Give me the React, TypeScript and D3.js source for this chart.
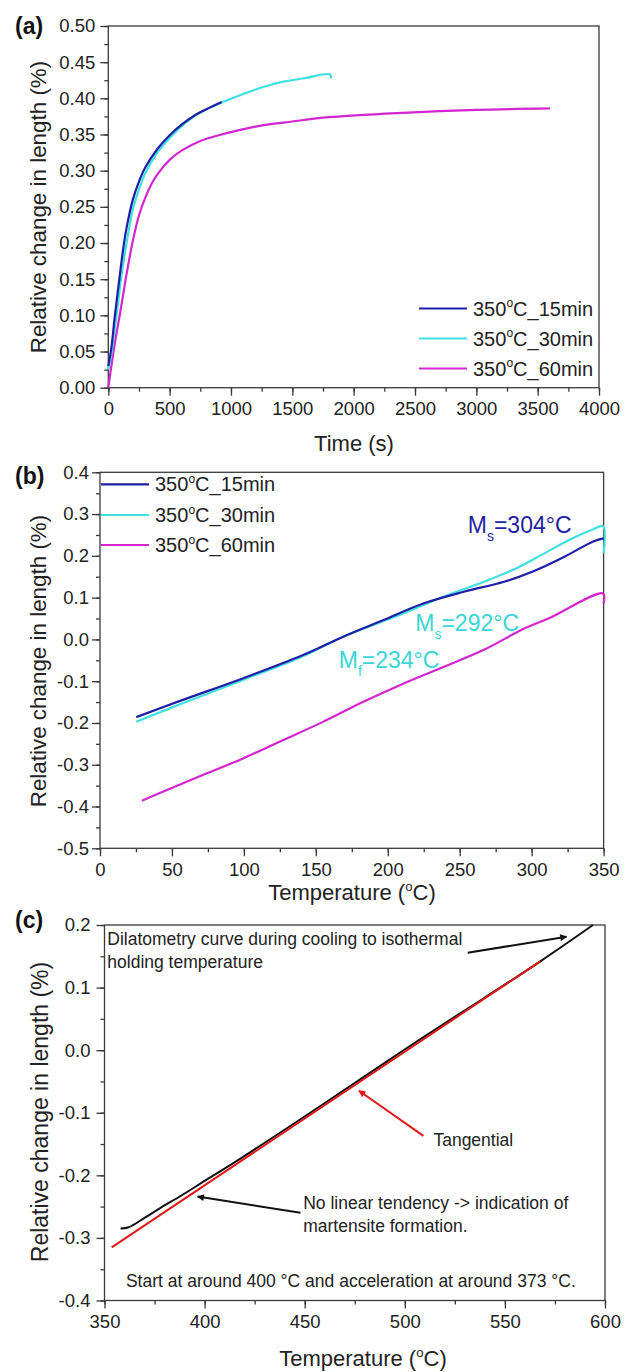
import { useEffect, useRef } from "react";
import * as d3 from "d3";

type Pt = [number, number];

const FONT = "'Liberation Sans', Arial, Helvetica, sans-serif";
const AXIS = "#3a3a3a";
const INK = "#222";
const NAVY = "#1f1fa6";
const CYAN = "#3fe0e0";
const MAGENTA = "#d326d0";

const seriesNames = ["15min", "30min", "60min"];
const seriesColors = [NAVY, CYAN, MAGENTA];

// (a) isothermal holding, time (s) vs relative change (%)
const timeTicks = [0, 500, 1000, 1500, 2000, 2500, 3000, 3500, 4000];
const lenTicksA = [0, 0.05, 0.1, 0.15, 0.2, 0.25, 0.3, 0.35, 0.4, 0.45, 0.5];
const hold15: Pt[] = [
  [0, 0.03], [25, 0.055], [50, 0.094], [75, 0.13], [100, 0.164], [125, 0.196], [150, 0.222],
  [200, 0.26], [250, 0.285], [300, 0.304], [400, 0.33], [500, 0.349], [600, 0.364],
  [700, 0.376], [800, 0.385], [924, 0.395],
];
const hold30: Pt[] = [
  [0, 0.025], [25, 0.047], [50, 0.079], [75, 0.11], [100, 0.146], [125, 0.175], [150, 0.201],
  [200, 0.247], [250, 0.274], [300, 0.296], [400, 0.325], [500, 0.345], [600, 0.362],
  [700, 0.375], [800, 0.385], [950, 0.396], [1100, 0.406], [1250, 0.415], [1400, 0.422],
  [1600, 0.428], [1807, 0.433], [1815, 0.428],
];
const hold60: Pt[] = [
  [0, 0], [50, 0.058], [100, 0.107], [150, 0.158], [200, 0.203], [250, 0.238], [300, 0.262],
  [350, 0.281], [400, 0.295], [500, 0.315], [600, 0.328], [750, 0.341], [900, 0.349],
  [1200, 0.361], [1500, 0.368], [1800, 0.374], [2400, 0.38], [3000, 0.384], [3600, 0.386],
];

// (b) final cooling, temperature (°C) vs relative change (%)
const tempTicksB = [0, 50, 100, 150, 200, 250, 300, 350];
const lenTicksB = [-0.5, -0.4, -0.3, -0.2, -0.1, 0, 0.1, 0.2, 0.3, 0.4];
const cool15: Pt[] = [
  [25.2, -0.186], [56.6, -0.146], [98.6, -0.094], [140.7, -0.038], [168.7, 0.006],
  [196.7, 0.046], [224.7, 0.086], [252.8, 0.114], [280.8, 0.138], [300.4, 0.162],
  [322.8, 0.198], [342.4, 0.234], [350, 0.242],
];
const cool30: Pt[] = [
  [25.2, -0.197], [56.6, -0.154], [98.6, -0.098], [140.7, -0.041], [168.7, 0.006],
  [210.7, 0.062], [238.7, 0.102], [266.8, 0.138], [289.2, 0.17], [308.8, 0.206],
  [328.4, 0.242], [342.4, 0.263], [349.6, 0.271], [350, 0.206],
];
const cool60: Pt[] = [
  [29.1, -0.386], [48.2, -0.358], [70.6, -0.326], [98.6, -0.286], [126.6, -0.242],
  [154.6, -0.198], [182.7, -0.15], [210.7, -0.106], [238.7, -0.066], [266.8, -0.025],
  [294.8, 0.026], [311.6, 0.05], [349.6, 0.11], [350, 0.086],
];

// (c) cooling to holding temperature
const tempTicksC = [350, 400, 450, 500, 550, 600];
const lenTicksC = [-0.4, -0.3, -0.2, -0.1, 0, 0.1, 0.2];
const dilatometry: Pt[] = [
  [358, -0.285], [362, -0.283], [370, -0.268], [378, -0.252], [388, -0.233], [400, -0.209],
  [418.5, -0.172], [449, -0.108], [479, -0.044], [499, -0.001], [519, 0.041],
  [539.5, 0.083], [567.7, 0.142], [594, 0.2],
];
const tangential: Pt[] = [[353.6, -0.315], [567.7, 0.142]];

const step = (a: number, b: number, s: number) => {
  const out: number[] = [];
  for (let v = a; v <= b + 1e-9; v += s) out.push(+v.toFixed(4));
  return out;
};

function drawAxes(g: any, x: any, y: any, o: any) {
  const [x0, x1] = x.range();
  const [y0, y1] = y.range();
  g.append("g").attr("transform", `translate(0,${y0})`)
    .call(d3.axisBottom(x).tickValues(o.xMinor).tickSize(4).tickFormat(() => ""));
  g.append("g").attr("transform", `translate(${x0},0)`)
    .call(d3.axisLeft(y).tickValues(o.yMinor).tickSize(4).tickFormat(() => ""));
  g.append("g").attr("transform", `translate(0,${y0})`)
    .call(d3.axisBottom(x).tickValues(o.xTicks).tickSize(8).tickPadding(o.xPad).tickFormat(o.xFmt));
  g.append("g").attr("transform", `translate(${x0},0)`)
    .call(d3.axisLeft(y).tickValues(o.yTicks).tickSize(8).tickPadding(o.yPad).tickFormat(o.yFmt));
  g.selectAll(".domain").remove();
  g.selectAll(".tick line").attr("stroke", AXIS).attr("stroke-width", 1.3);
  g.selectAll(".tick text").attr("font-family", FONT).attr("font-size", 18.5).attr("fill", INK);
  g.append("rect")
    .attr("x", x0).attr("y", y1).attr("width", x1 - x0).attr("height", y0 - y1)
    .attr("fill", "none").attr("stroke", AXIS).attr("stroke-width", 1.3);
}

// text with a small raised "o" (degree) in the middle
function supText(g: any, x: number, y: number, pre: string, post: string, size: number, anchor = "start") {
  const t = g.append("text")
    .attr("x", x).attr("y", y)
    .attr("font-family", FONT).attr("font-size", size).attr("fill", INK)
    .attr("text-anchor", anchor);
  t.append("tspan").text(pre);
  t.append("tspan").attr("font-size", size * 0.6).attr("dy", -size * 0.42).text("o");
  t.append("tspan").attr("dy", size * 0.42).text(post);
  return t;
}

// "M" with subscript then rest
function subText(g: any, x: number, y: number, sub: string, post: string, color: string) {
  const t = g.append("text").attr("x", x).attr("y", y)
    .attr("font-family", FONT).attr("font-size", 23).attr("fill", color);
  t.append("tspan").text("M");
  t.append("tspan").attr("font-size", 14).attr("dy", 8).text(sub);
  t.append("tspan").attr("dy", -8).text(post);
}

function yTitle(g: any, x: number, cy: number, size: number) {
  g.append("text")
    .attr("transform", `translate(${x},${cy}) rotate(-90)`)
    .attr("text-anchor", "middle")
    .attr("font-family", FONT).attr("font-size", size).attr("fill", INK)
    .text("Relative change in length (%)");
}

function panelLetter(g: any, x: number, y: number, s: string) {
  g.append("text").attr("x", x).attr("y", y)
    .attr("font-family", FONT).attr("font-size", 23).attr("font-weight", "bold").attr("fill", "#111")
    .text(s);
}

function legend(g: any, x: number, ys: number[]) {
  ys.forEach((yy, i) => {
    g.append("line").attr("x1", x).attr("x2", x + 48).attr("y1", yy).attr("y2", yy)
      .attr("stroke", seriesColors[i]).attr("stroke-width", 2.2);
    supText(g, x + 54, yy + 7, "350", "C_" + seriesNames[i], 20);
  });
}

export default function App() {
  const ref = useRef<SVGSVGElement>(null);

  useEffect(() => {
    const svg = d3.select(ref.current);
    svg.selectAll("*").remove();

    const defs = svg.append("defs");
    [["arrBlack", "#111"], ["arrRed", "#e01818"]].forEach(([id, c]) => {
      defs.append("marker").attr("id", id).attr("viewBox", "0 0 10 10")
        .attr("refX", 9).attr("refY", 5).attr("markerWidth", 11).attr("markerHeight", 7)
        .attr("markerUnits", "userSpaceOnUse").attr("orient", "auto")
        .append("path").attr("d", "M0,0L10,5L0,10z").attr("fill", c);
    });

    const smooth = d3.curveCatmullRom.alpha(0.5);

    // ---------- (a)
    const xa = d3.scaleLinear().domain([0, 4000]).range([108.3, 599]);
    const ya = d3.scaleLinear().domain([0, 0.5]).range([387.7, 26]);
    const ga = svg.append("g");
    drawAxes(ga, xa, ya, {
      xTicks: timeTicks, xMinor: step(0, 4000, 250), yTicks: lenTicksA, yMinor: step(0, 0.5, 0.025),
      xFmt: (d: number) => String(d), yFmt: (d: number) => d.toFixed(2), xPad: 6, yPad: 5,
    });
    const la = d3.line<Pt>().x((d) => xa(d[0])).y((d) => ya(d[1])).curve(smooth);
    [hold60, hold30, hold15].forEach((s, i) => {
      ga.append("path").datum(s).attr("d", la).attr("fill", "none")
        .attr("stroke", [MAGENTA, CYAN, NAVY][i]).attr("stroke-width", 2.2);
    });
    legend(ga, 419, [308.5, 338.5, 368.5]);
    ga.append("text").attr("x", 354).attr("y", 451).attr("text-anchor", "middle")
      .attr("font-family", FONT).attr("font-size", 22).attr("fill", INK).text("Time (s)");
    yTitle(ga, 46, 207, 22.4);
    panelLetter(ga, 15, 34, "(a)");

    // ---------- (b)
    const xb = d3.scaleLinear().domain([0, 350]).range([100, 603.6]);
    const yb = d3.scaleLinear().domain([-0.5, 0.4]).range([848.3, 472.3]);
    const gb = svg.append("g");
    drawAxes(gb, xb, yb, {
      xTicks: tempTicksB, xMinor: step(0, 350, 25), yTicks: lenTicksB, yMinor: step(-0.5, 0.4, 0.05),
      xFmt: (d: number) => String(d), yFmt: (d: number) => d.toFixed(1), xPad: 7, yPad: 3,
    });
    const lb = d3.line<Pt>().x((d) => xb(d[0])).y((d) => yb(d[1])).curve(smooth);
    [cool60, cool30, cool15].forEach((s, i) => {
      gb.append("path").datum(s).attr("d", lb).attr("fill", "none")
        .attr("stroke", [MAGENTA, CYAN, NAVY][i]).attr("stroke-width", 2.2);
    });
    legend(gb, 101, [484.3, 515, 545]);
    subText(gb, xb(255.6), yb(0.254), "s", "=304°C", NAVY);
    subText(gb, xb(219.1), yb(0.021), "s", "=292°C", "#3ad6d6");
    subText(gb, xb(165.9), yb(-0.069), "f", "=234°C", "#3ad6d6");
    supText(gb, 352, 900, "Temperature (", "C)", 22, "middle");
    yTitle(gb, 46, 661, 22.4);
    panelLetter(gb, 15, 484, "(b)");

    // ---------- (c)
    const xc = d3.scaleLinear().domain([350, 600]).range([104.5, 605]);
    const yc = d3.scaleLinear().domain([-0.4, 0.2]).range([1300.5, 925]);
    const gc = svg.append("g");
    drawAxes(gc, xc, yc, {
      xTicks: tempTicksC, xMinor: step(350, 600, 25), yTicks: lenTicksC, yMinor: step(-0.4, 0.2, 0.05),
      xFmt: (d: number) => String(d), yFmt: (d: number) => d.toFixed(1), xPad: 6, yPad: 6,
    });
    const lc = d3.line<Pt>().x((d) => xc(d[0])).y((d) => yc(d[1])).curve(smooth);
    gc.append("path").datum(dilatometry).attr("d", lc).attr("fill", "none")
      .attr("stroke", "#111").attr("stroke-width", 2);
    gc.append("path").datum(tangential).attr("d", lc).attr("fill", "none")
      .attr("stroke", "#e01818").attr("stroke-width", 2);

    const note = (T: number, v: number, s: string) =>
      gc.append("text").attr("x", xc(T)).attr("y", yc(v))
        .attr("font-family", FONT).attr("font-size", 17.5).attr("fill", INK).text(s);
    note(351.4, 0.168, "Dilatometry curve during cooling to isothermal");
    note(351.4, 0.1313, "holding temperature");
    note(514.3, -0.153, "Tangential");
    note(449.25, -0.254, "No linear tendency -> indication of");
    note(449.25, -0.29, "martensite formation.");
    note(360.7, -0.378, "Start at around 400 °C and acceleration at around 373 °C.");

    const arrow = (a: Pt, b: Pt, c: string, m: string) =>
      gc.append("line").attr("x1", xc(a[0])).attr("y1", yc(a[1])).attr("x2", xc(b[0])).attr("y2", yc(b[1]))
        .attr("stroke", c).attr("stroke-width", 2).attr("marker-end", `url(#${m})`);
    arrow([531.4, 0.1557], [580.8, 0.1813], "#111", "arrBlack");
    arrow([509.3, -0.137], [477.1, -0.0648], "#e01818", "arrRed");
    arrow([447.9, -0.2597], [396.5, -0.234], "#111", "arrBlack");

    supText(gc, 363, 1366, "Temperature (", "C)", 22, "middle");
    yTitle(gc, 48, 1112, 23);
    panelLetter(gc, 15, 928, "(c)");
  }, []);

  return (
    <svg
      ref={ref}
      width={632}
      height={1372}
      style={{ position: "absolute", left: 0, top: 0, background: "#fff" }}
    />
  );
}
